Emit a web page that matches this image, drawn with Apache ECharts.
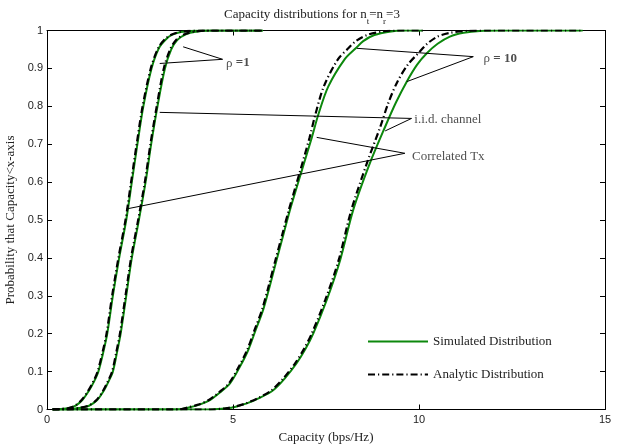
<!DOCTYPE html>
<html>
<head>
<meta charset="utf-8">
<script src="https://cdn.jsdelivr.net/npm/echarts@6/dist/echarts.min.js"></script>
<style>
html,body{margin:0;padding:0;background:#fff;}
#chart{width:624px;height:445px;}
</style>
</head>
<body>
<div id="chart"></div>
<script>
// ---- data (capacity in bps/Hz, probability) ----
var xTicks = [0, 5, 10, 15];
var yTicks = [0, 0.1, 0.2, 0.3, 0.4, 0.5, 0.6, 0.7, 0.8, 0.9, 1];

// rho = 1, correlated Tx — simulated
var simA_cap = [0.15, 0.35, 0.6, 0.77, 0.95, 1.13, 1.27, 1.38, 1.51, 1.62, 1.77, 1.94, 2.13, 2.28, 2.43, 2.59, 2.81, 3.01, 3.2, 3.37, 3.6, 3.85, 4.3, 5.8];
var simA_p   = [0, 0.001, 0.004, 0.01, 0.025, 0.05, 0.075, 0.1, 0.15, 0.2, 0.3, 0.4, 0.5, 0.6, 0.7, 0.8, 0.9, 0.954, 0.977, 0.989, 0.996, 0.999, 1, 1];
// rho = 1, correlated Tx — analytic
var anaA_cap = [0.15, 0.33, 0.58, 0.75, 0.93, 1.11, 1.25, 1.36, 1.49, 1.6, 1.75, 1.92, 2.11, 2.26, 2.41, 2.57, 2.79, 2.99, 3.17, 3.34, 3.57, 3.82, 4.25, 5.8];
var anaA_p   = [0, 0.001, 0.004, 0.01, 0.025, 0.05, 0.075, 0.1, 0.15, 0.2, 0.3, 0.4, 0.5, 0.6, 0.7, 0.8, 0.9, 0.954, 0.977, 0.989, 0.996, 0.999, 1, 1];

// rho = 1, i.i.d. channel — simulated
var simB_cap = [0.15, 0.6, 0.85, 1.13, 1.35, 1.53, 1.66, 1.77, 1.88, 1.98, 2.13, 2.28, 2.47, 2.65, 2.8, 2.97, 3.17, 3.34, 3.5, 3.73, 4.0, 4.4, 5.8];
var simB_p   = [0, 0.001, 0.004, 0.01, 0.025, 0.05, 0.075, 0.1, 0.15, 0.2, 0.3, 0.4, 0.5, 0.6, 0.7, 0.8, 0.9, 0.95, 0.975, 0.99, 0.997, 1, 1];
// rho = 1, i.i.d. channel — analytic
var anaB_cap = [0.15, 0.58, 0.83, 1.11, 1.33, 1.51, 1.64, 1.75, 1.86, 1.96, 2.11, 2.26, 2.45, 2.63, 2.78, 2.95, 3.14, 3.31, 3.47, 3.7, 3.97, 4.35, 5.8];
var anaB_p   = [0, 0.001, 0.004, 0.01, 0.025, 0.05, 0.075, 0.1, 0.15, 0.2, 0.3, 0.4, 0.5, 0.6, 0.7, 0.8, 0.9, 0.95, 0.975, 0.99, 0.997, 1, 1];

// rho = 10, correlated Tx — simulated
var simC_cap = [0.15, 3.3, 3.58, 3.84, 4.1, 4.38, 4.65, 4.92, 5.17, 5.41, 5.61, 5.81, 6.0, 6.17, 6.35, 6.53, 6.82, 7.12, 7.29, 7.56, 8.0, 8.3, 8.5, 8.8, 9.2, 9.6, 10.1];
var simC_p   = [0, 0, 0.0005, 0.006, 0.013, 0.025, 0.045, 0.069, 0.11, 0.157, 0.21, 0.263, 0.33, 0.394, 0.46, 0.526, 0.621, 0.718, 0.777, 0.852, 0.924, 0.953, 0.972, 0.988, 0.997, 1, 1];
// rho = 10, correlated Tx — analytic
var anaC_cap = [0.15, 3.3, 3.56, 3.81, 4.07, 4.35, 4.62, 4.89, 5.14, 5.38, 5.58, 5.78, 5.97, 6.14, 6.32, 6.5, 6.78, 7.06, 7.21, 7.44, 7.82, 8.1, 8.3, 8.6, 9.0, 9.4, 10.1];
var anaC_p   = [0, 0, 0.0005, 0.006, 0.013, 0.025, 0.045, 0.069, 0.11, 0.157, 0.21, 0.263, 0.33, 0.394, 0.46, 0.526, 0.621, 0.718, 0.777, 0.852, 0.924, 0.953, 0.972, 0.988, 0.997, 1, 1];

// rho = 10, i.i.d. channel — simulated
var simD_cap = [0.15, 4.4, 4.83, 5.1, 5.37, 5.7, 6.08, 6.4, 6.71, 6.95, 7.16, 7.52, 7.88, 8.23, 8.68, 9.09, 9.38, 9.67, 9.95, 10.21, 10.5, 10.83, 11.2, 11.64, 12.2, 14.4];
var simD_p   = [0, 0, 0.003, 0.008, 0.016, 0.03, 0.051, 0.083, 0.122, 0.16, 0.201, 0.289, 0.394, 0.526, 0.65, 0.746, 0.81, 0.865, 0.91, 0.94, 0.965, 0.984, 0.994, 0.999, 1, 1];
// rho = 10, i.i.d. channel — analytic
var anaD_cap = [0.15, 4.4, 4.8, 5.07, 5.34, 5.67, 6.04, 6.36, 6.67, 6.91, 7.12, 7.48, 7.84, 8.18, 8.6, 8.96, 9.18, 9.42, 9.7, 9.98, 10.22, 10.5, 10.85, 11.3, 11.9, 14.4];
var anaD_p   = [0, 0, 0.003, 0.008, 0.016, 0.03, 0.051, 0.083, 0.122, 0.16, 0.201, 0.289, 0.394, 0.526, 0.65, 0.746, 0.81, 0.865, 0.91, 0.94, 0.965, 0.984, 0.994, 0.999, 1, 1];

// annotation callout lines, in data units: [fromCap, fromP, toCap, toP]
var rho1Lines   = [[4.72, 0.924, 3.66, 0.957], [4.72, 0.924, 3.03, 0.913]];
var rho10Lines  = [[11.46, 0.931, 8.33, 0.953], [11.46, 0.931, 9.67, 0.865]];
var iidLines    = [[9.8, 0.768, 3.03, 0.784], [9.8, 0.768, 9.09, 0.735]];
var corrLines   = [[9.62, 0.676, 7.25, 0.718], [9.62, 0.676, 2.13, 0.529]];
// annotation texts: [cap, p]
var rho1Text  = [4.8, 0.914];
var rho10Text = [11.72, 0.927];
var iidText   = [9.86, 0.766];
var corrText  = [9.8, 0.667];

var simName = 'Simulated Distribution';
var anaName = 'Analytic Distribution';

function zipXY(xs, ys) {
  var out = [];
  for (var i = 0; i < xs.length; i++) out.push([xs[i], ys[i]]);
  return out;
}

var green = '#0c880c';
var serif = 'Liberation Serif';
var sans = 'Liberation Sans';

function simSeries(xs, ys) {
  return {
    type: 'line', name: simName, data: zipXY(xs, ys),
    showSymbol: false, symbol: 'none', smooth: 0.3,
    lineStyle: { color: green, width: 2 }, itemStyle: { color: green },
    z: 2, silent: true
  };
}
function anaSeries(xs, ys) {
  return {
    type: 'line', name: anaName, data: zipXY(xs, ys),
    showSymbol: false, symbol: 'none', smooth: 0.3,
    lineStyle: { color: '#000', width: 2.2, type: [7, 3, 1.2, 3] }, itemStyle: { color: '#000' },
    z: 3, silent: true
  };
}

var allLines = [].concat(rho1Lines, rho10Lines, iidLines, corrLines).map(function (l) {
  return { coords: [[l[0], l[1]], [l[2], l[3]]] };
});

var texts = [
  { value: rho1Text, label: { formatter: 'ρ {b|=1}' } },
  { value: rho10Text, label: { formatter: 'ρ {b|= 10}' } },
  { value: iidText, label: { formatter: 'i.i.d. channel' } },
  { value: corrText, label: { formatter: 'Correlated Tx' } }
];

var axisCommon = {
  axisLine: { show: true, onZero: false, lineStyle: { color: '#000', width: 1 } },
  axisTick: { show: true, inside: true, length: 5, lineStyle: { color: '#000' } },
  splitLine: { show: false }
};

var chart = echarts.init(document.getElementById('chart'), null, { renderer: 'canvas' });
chart.setOption({
  animation: false,
  backgroundColor: '#fff',
  title: {
    text: 'Capacity distributions for n{s|t}=n{s|r}=3',
    left: 'center', top: -1,
    textStyle: {
      fontFamily: serif, fontSize: 13, fontWeight: 'normal', color: '#222',
      rich: { s: { fontFamily: serif, fontSize: 9, color: '#222', verticalAlign: 'bottom', lineHeight: 22 } }
    }
  },
  grid: { left: 47, right: 19, top: 30.5, bottom: 35.5, containLabel: false, outerBoundsMode: 'none' },
  legend: {
    orient: 'vertical', left: 362, top: 330,
    itemWidth: 60, itemHeight: 14, itemGap: 20,
    data: [simName, anaName],
    itemStyle: { opacity: 0 },
    textStyle: { fontFamily: serif, fontSize: 13, color: '#222' },
    selectedMode: false
  },
  xAxis: [
    Object.assign({
      type: 'value', min: 0, max: 15, interval: 5, position: 'bottom',
      name: 'Capacity (bps/Hz)', nameLocation: 'middle', nameGap: 22,
      nameTextStyle: { fontFamily: serif, fontSize: 13, color: '#222' },
      axisLabel: { fontFamily: sans, fontSize: 11, color: '#222', margin: 5,
        formatter: function (v) { return xTicks.indexOf(v) >= 0 ? String(v) : ''; } }
    }, axisCommon),
    Object.assign({
      type: 'value', min: 0, max: 15, interval: 5, position: 'top',
      axisLabel: { show: false }
    }, axisCommon)
  ],
  yAxis: [
    Object.assign({
      type: 'value', min: 0, max: 1, interval: 0.1, position: 'left',
      name: 'Probability that Capacity<x-axis', nameLocation: 'middle', nameGap: 25, nameRotate: 90,
      nameTextStyle: { fontFamily: serif, fontSize: 13, color: '#222' },
      axisLabel: { fontFamily: sans, fontSize: 11, color: '#222', margin: 4,
        formatter: function (v) {
          for (var i = 0; i < yTicks.length; i++) if (Math.abs(yTicks[i] - v) < 1e-9) return String(yTicks[i]);
          return '';
        } }
    }, axisCommon),
    Object.assign({
      type: 'value', min: 0, max: 1, interval: 0.1, position: 'right',
      axisLabel: { show: false }
    }, axisCommon)
  ],
  series: [
    simSeries(simA_cap, simA_p),
    simSeries(simB_cap, simB_p),
    simSeries(simC_cap, simC_p),
    simSeries(simD_cap, simD_p),
    anaSeries(anaA_cap, anaA_p),
    anaSeries(anaB_cap, anaB_p),
    anaSeries(anaC_cap, anaC_p),
    anaSeries(anaD_cap, anaD_p),
    {
      type: 'lines', coordinateSystem: 'cartesian2d', data: allLines, silent: true,
      lineStyle: { color: '#000', width: 1, opacity: 1 }, z: 4
    },
    {
      type: 'scatter', data: texts, symbolSize: 1, silent: true, z: 5,
      itemStyle: { color: 'rgba(0,0,0,0)' },
      label: {
        show: true, position: 'right', distance: 0,
        fontFamily: serif, fontSize: 13, color: '#222',
        rich: { b: { fontFamily: serif, fontSize: 13, fontWeight: 'bold', color: '#222' } }
      }
    }
  ]
});
</script>
</body>
</html>
